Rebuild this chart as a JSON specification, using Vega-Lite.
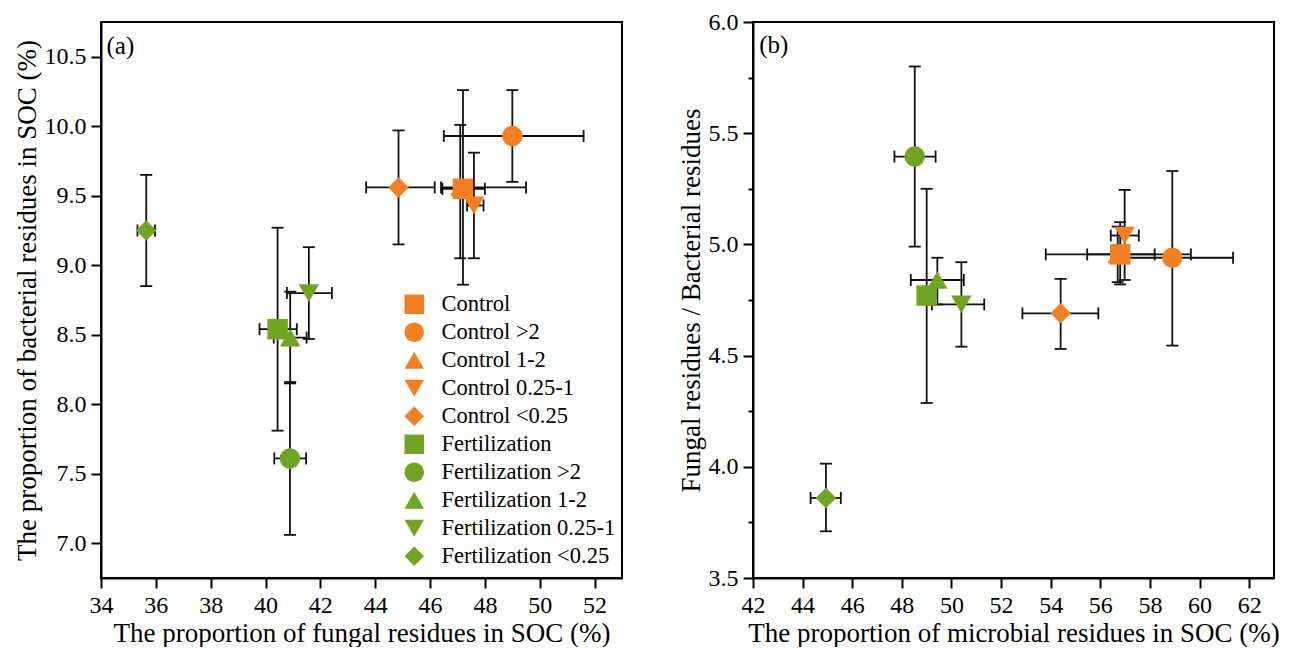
{
  "$schema": "https://vega.github.io/schema/vega-lite/v6.json",
  "background": "white",
  "padding": {"top": 9, "left": 11, "right": 5, "bottom": 0},
  "spacing": 53,
  "datasets": {
    "a": [
      {"group": "Control", "x": 47.2, "y": 9.55, "xlo": 46.45, "xhi": 48.0, "ylo": 8.86, "yhi": 10.26},
      {"group": "Control >2", "x": 49.0, "y": 9.93, "xlo": 46.5, "xhi": 51.6, "ylo": 9.6, "yhi": 10.26},
      {"group": "Control 1-2", "x": 47.1, "y": 9.56, "xlo": 46.4, "xhi": 49.5, "ylo": 9.05, "yhi": 10.01},
      {"group": "Control 0.25-1", "x": 47.6, "y": 9.43, "xlo": 47.35, "xhi": 47.95, "ylo": 9.05, "yhi": 9.81},
      {"group": "Control <0.25", "x": 44.85, "y": 9.56, "xlo": 43.67, "xhi": 46.17, "ylo": 9.15, "yhi": 9.97},
      {"group": "Fertilization", "x": 40.44, "y": 8.54, "xlo": 39.78, "xhi": 41.14, "ylo": 7.81, "yhi": 9.27},
      {"group": "Fertilization >2", "x": 40.89, "y": 7.61, "xlo": 40.32, "xhi": 41.48, "ylo": 7.06, "yhi": 8.15},
      {"group": "Fertilization 1-2", "x": 40.9, "y": 8.48, "xlo": 40.3, "xhi": 41.5, "ylo": 8.16, "yhi": 8.81},
      {"group": "Fertilization 0.25-1", "x": 41.58, "y": 8.8, "xlo": 40.78, "xhi": 42.42, "ylo": 8.47, "yhi": 9.13},
      {"group": "Fertilization <0.25", "x": 35.65, "y": 9.25, "xlo": 35.33, "xhi": 35.97, "ylo": 8.85, "yhi": 9.65}
    ],
    "b": [
      {"group": "Control", "x": 56.8, "y": 4.955, "xlo": 55.47, "xhi": 58.19, "ylo": 4.82, "yhi": 5.1},
      {"group": "Control >2", "x": 58.9, "y": 4.94, "xlo": 56.45, "xhi": 61.35, "ylo": 4.545, "yhi": 5.33},
      {"group": "Control 1-2", "x": 56.7, "y": 4.955, "xlo": 53.8, "xhi": 59.65, "ylo": 4.83, "yhi": 5.08},
      {"group": "Control 0.25-1", "x": 56.98, "y": 5.04, "xlo": 56.42, "xhi": 57.55, "ylo": 4.84, "yhi": 5.245},
      {"group": "Control <0.25", "x": 54.4, "y": 4.69, "xlo": 52.86, "xhi": 55.92, "ylo": 4.53, "yhi": 4.845},
      {"group": "Fertilization", "x": 49.0, "y": 4.77, "xlo": 48.7, "xhi": 49.3, "ylo": 4.287, "yhi": 5.25},
      {"group": "Fertilization >2", "x": 48.52, "y": 5.395, "xlo": 47.7, "xhi": 49.36, "ylo": 4.99, "yhi": 5.8},
      {"group": "Fertilization 1-2", "x": 49.43, "y": 4.84, "xlo": 48.36, "xhi": 50.5, "ylo": 4.73, "yhi": 4.94},
      {"group": "Fertilization 0.25-1", "x": 50.4, "y": 4.73, "xlo": 49.21, "xhi": 51.32, "ylo": 4.54, "yhi": 4.92},
      {"group": "Fertilization <0.25", "x": 44.94, "y": 3.86, "xlo": 44.32, "xhi": 45.54, "ylo": 3.71, "yhi": 4.014}
    ]
  },
  "hconcat": [
    {
      "width": 521,
      "height": 556,
      "data": {"name": "a"},
      "layer": [
        {
          "mark": {"type": "point", "filled": true, "opacity": 0, "size": 1},
          "encoding": {
            "x": {
              "field": "x", "type": "quantitative",
              "scale": {"domain": [34, 53], "nice": false, "zero": false},
              "axis": {
                "title": "The proportion of fungal residues in SOC (%)",
                "values": [34, 35, 36, 37, 38, 39, 40, 41, 42, 43, 44, 45, 46, 47, 48, 49, 50, 51, 52, 53],
                "labelExpr": "datum.value % 2 == 0 && datum.value < 53 ? datum.label : ''",
                "tickSize": {"condition": {"test": "datum.value % 2 == 0", "value": 10}, "value": 5}
              }
            },
            "y": {
              "field": "y", "type": "quantitative",
              "scale": {"domain": [6.75, 10.75], "nice": false, "zero": false},
              "axis": {
                "title": "The proportion of bacterial residues in SOC (%)",
                "values": [7, 7.25, 7.5, 7.75, 8, 8.25, 8.5, 8.75, 9, 9.25, 9.5, 9.75, 10, 10.25, 10.5],
                "labelExpr": "abs(datum.value * 2 - round(datum.value * 2)) < 0.001 ? format(datum.value, '.1f') : ''",
                "tickSize": {"condition": {"test": "abs(datum.value * 2 - round(datum.value * 2)) < 0.001", "value": 10}, "value": 5}
              }
            }
          }
        },
        {
          "mark": {"type": "rule", "color": "#111111", "strokeWidth": 1.8},
          "encoding": {
            "x": {"field": "x", "type": "quantitative"},
            "y": {"field": "ylo", "type": "quantitative"},
            "y2": {"field": "yhi"}
          }
        },
        {
          "mark": {"type": "rule", "color": "#111111", "strokeWidth": 1.8},
          "encoding": {
            "x": {"field": "xlo", "type": "quantitative"},
            "x2": {"field": "xhi"},
            "y": {"field": "y", "type": "quantitative"}
          }
        },
        {
          "mark": {"type": "tick", "orient": "horizontal", "color": "#111111", "size": 12, "thickness": 1.8, "opacity": 1},
          "encoding": {
            "x": {"field": "x", "type": "quantitative"},
            "y": {"field": "ylo", "type": "quantitative"}
          }
        },
        {
          "mark": {"type": "tick", "orient": "horizontal", "color": "#111111", "size": 12, "thickness": 1.8, "opacity": 1},
          "encoding": {
            "x": {"field": "x", "type": "quantitative"},
            "y": {"field": "yhi", "type": "quantitative"}
          }
        },
        {
          "mark": {"type": "tick", "orient": "vertical", "color": "#111111", "size": 12, "thickness": 1.8, "opacity": 1},
          "encoding": {
            "x": {"field": "xlo", "type": "quantitative"},
            "y": {"field": "y", "type": "quantitative"}
          }
        },
        {
          "mark": {"type": "tick", "orient": "vertical", "color": "#111111", "size": 12, "thickness": 1.8, "opacity": 1},
          "encoding": {
            "x": {"field": "xhi", "type": "quantitative"},
            "y": {"field": "y", "type": "quantitative"}
          }
        },
        {
          "mark": {"type": "point", "filled": true, "opacity": 1, "size": 420, "strokeWidth": 0},
          "encoding": {
            "x": {"field": "x", "type": "quantitative"},
            "y": {"field": "y", "type": "quantitative"},
            "color": {
              "field": "group", "type": "nominal",
              "scale": {
                "domain": ["Control", "Control >2", "Control 1-2", "Control 0.25-1", "Control <0.25", "Fertilization", "Fertilization >2", "Fertilization 1-2", "Fertilization 0.25-1", "Fertilization <0.25"],
                "range": ["#F47F20", "#F47F20", "#F47F20", "#F47F20", "#F47F20", "#72A424", "#72A424", "#72A424", "#72A424", "#72A424"]
              },
              "legend": {"orient": "none", "legendX": 302, "legendY": 271, "title": null, "symbolSize": 380, "labelFontSize": 22.5, "labelFont": "Liberation Serif", "labelLimit": 400, "rowPadding": 5, "symbolOpacity": 1, "symbolStrokeWidth": 0, "labelOffset": 16, "padding": 0}
            },
            "shape": {
              "field": "group", "type": "nominal",
              "scale": {
                "domain": ["Control", "Control >2", "Control 1-2", "Control 0.25-1", "Control <0.25", "Fertilization", "Fertilization >2", "Fertilization 1-2", "Fertilization 0.25-1", "Fertilization <0.25"],
                "range": ["square", "circle", "triangle-up", "triangle-down", "diamond", "square", "circle", "triangle-up", "triangle-down", "diamond"]
              },
              "legend": {"orient": "none", "legendX": 302, "legendY": 271, "title": null, "symbolSize": 380, "labelFontSize": 22.5, "labelFont": "Liberation Serif", "labelLimit": 400, "rowPadding": 5, "symbolOpacity": 1, "symbolStrokeWidth": 0, "labelOffset": 16, "padding": 0}
            }
          }
        },
        {
          "data": {"values": [{"label": "(a)"}]},
          "mark": {"type": "text", "align": "left", "baseline": "middle", "fontSize": 25, "font": "Liberation Serif", "color": "black"},
          "encoding": {
            "x": {"datum": 34.2, "type": "quantitative"},
            "y": {"datum": 10.58, "type": "quantitative"},
            "text": {"field": "label"}
          }
        }
      ]
    },
    {
      "width": 521,
      "height": 556,
      "data": {"name": "b"},
      "layer": [
        {
          "mark": {"type": "point", "filled": true, "opacity": 0, "size": 1},
          "encoding": {
            "x": {
              "field": "x", "type": "quantitative",
              "scale": {"domain": [42, 63], "nice": false, "zero": false},
              "axis": {
                "title": "The proportion of microbial residues in SOC (%)",
                "values": [42, 43, 44, 45, 46, 47, 48, 49, 50, 51, 52, 53, 54, 55, 56, 57, 58, 59, 60, 61, 62, 63],
                "labelExpr": "datum.value % 2 == 0 && datum.value < 63 ? datum.label : ''",
                "tickSize": {"condition": {"test": "datum.value % 2 == 0", "value": 10}, "value": 5}
              }
            },
            "y": {
              "field": "y", "type": "quantitative",
              "scale": {"domain": [3.5, 6.0], "nice": false, "zero": false},
              "axis": {
                "title": "Fungal residues / Bacterial residues",
                "values": [3.5, 3.75, 4, 4.25, 4.5, 4.75, 5, 5.25, 5.5, 5.75, 6],
                "labelExpr": "abs(datum.value * 2 - round(datum.value * 2)) < 0.001 ? format(datum.value, '.1f') : ''",
                "tickSize": {"condition": {"test": "abs(datum.value * 2 - round(datum.value * 2)) < 0.001", "value": 10}, "value": 5}
              }
            }
          }
        },
        {
          "mark": {"type": "rule", "color": "#111111", "strokeWidth": 1.8},
          "encoding": {
            "x": {"field": "x", "type": "quantitative"},
            "y": {"field": "ylo", "type": "quantitative"},
            "y2": {"field": "yhi"}
          }
        },
        {
          "mark": {"type": "rule", "color": "#111111", "strokeWidth": 1.8},
          "encoding": {
            "x": {"field": "xlo", "type": "quantitative"},
            "x2": {"field": "xhi"},
            "y": {"field": "y", "type": "quantitative"}
          }
        },
        {
          "mark": {"type": "tick", "orient": "horizontal", "color": "#111111", "size": 12, "thickness": 1.8, "opacity": 1},
          "encoding": {
            "x": {"field": "x", "type": "quantitative"},
            "y": {"field": "ylo", "type": "quantitative"}
          }
        },
        {
          "mark": {"type": "tick", "orient": "horizontal", "color": "#111111", "size": 12, "thickness": 1.8, "opacity": 1},
          "encoding": {
            "x": {"field": "x", "type": "quantitative"},
            "y": {"field": "yhi", "type": "quantitative"}
          }
        },
        {
          "mark": {"type": "tick", "orient": "vertical", "color": "#111111", "size": 12, "thickness": 1.8, "opacity": 1},
          "encoding": {
            "x": {"field": "xlo", "type": "quantitative"},
            "y": {"field": "y", "type": "quantitative"}
          }
        },
        {
          "mark": {"type": "tick", "orient": "vertical", "color": "#111111", "size": 12, "thickness": 1.8, "opacity": 1},
          "encoding": {
            "x": {"field": "xhi", "type": "quantitative"},
            "y": {"field": "y", "type": "quantitative"}
          }
        },
        {
          "mark": {"type": "point", "filled": true, "opacity": 1, "size": 420, "strokeWidth": 0},
          "encoding": {
            "x": {"field": "x", "type": "quantitative"},
            "y": {"field": "y", "type": "quantitative"},
            "color": {
              "field": "group", "type": "nominal",
              "scale": {
                "domain": ["Control", "Control >2", "Control 1-2", "Control 0.25-1", "Control <0.25", "Fertilization", "Fertilization >2", "Fertilization 1-2", "Fertilization 0.25-1", "Fertilization <0.25"],
                "range": ["#F47F20", "#F47F20", "#F47F20", "#F47F20", "#F47F20", "#72A424", "#72A424", "#72A424", "#72A424", "#72A424"]
              },
              "legend": null
            },
            "shape": {
              "field": "group", "type": "nominal",
              "scale": {
                "domain": ["Control", "Control >2", "Control 1-2", "Control 0.25-1", "Control <0.25", "Fertilization", "Fertilization >2", "Fertilization 1-2", "Fertilization 0.25-1", "Fertilization <0.25"],
                "range": ["square", "circle", "triangle-up", "triangle-down", "diamond", "square", "circle", "triangle-up", "triangle-down", "diamond"]
              },
              "legend": null
            }
          }
        },
        {
          "data": {"values": [{"label": "(b)"}]},
          "mark": {"type": "text", "align": "left", "baseline": "middle", "fontSize": 25, "font": "Liberation Serif", "color": "black"},
          "encoding": {
            "x": {"datum": 42.25, "type": "quantitative"},
            "y": {"datum": 5.895, "type": "quantitative"},
            "text": {"field": "label"}
          }
        }
      ]
    }
  ],
  "resolve": {"scale": {"color": "independent", "shape": "independent", "x": "independent", "y": "independent"}},
  "config": {
    "font": "Liberation Serif",
    "view": {"stroke": "black", "strokeWidth": 2},
    "axis": {
      "labelFont": "Liberation Serif",
      "titleFont": "Liberation Serif",
      "labelFontSize": 24,
      "titleFontSize": 27,
      "titleFontWeight": "normal",
      "labelColor": "black",
      "titleColor": "black",
      "domainColor": "black",
      "domainWidth": 2,
      "tickColor": "black",
      "tickWidth": 2,
      "grid": false,
      "labelPadding": 5,
      "titlePadding": 3,
      "labelOverlap": false,
      "labelFlush": false
    },
    "legend": {"labelColor": "black"}
  }
}
